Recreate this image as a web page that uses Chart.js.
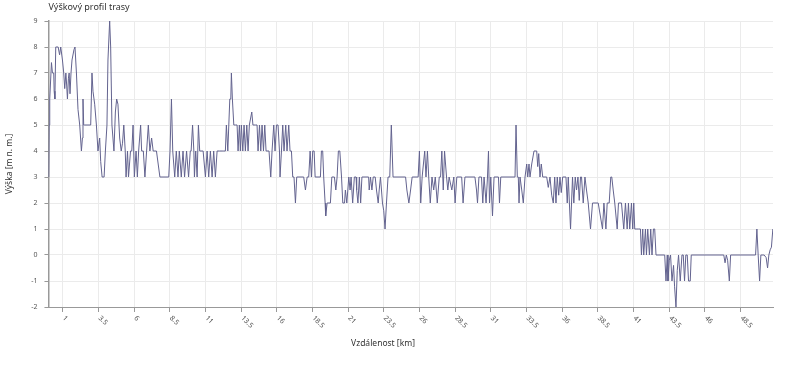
<!DOCTYPE html>
<html>
<head>
<meta charset="utf-8">
<script src="https://cdn.jsdelivr.net/npm/chart.js@4.4.0/dist/chart.umd.min.js"></script>
<style>
html, body { margin: 0; padding: 0; background: #fff; }
#wrap { width: 800px; height: 367px; }
</style>
</head>
<body>
<div id="wrap"><canvas id="profile-chart"></canvas></div>
<script>
/* Profile data: distance [km] and height [m]. */
const distanceKm = [
	0.02, 0.05, 0.09, 0.21, 0.28, 0.37, 0.40, 0.45, 0.51, 0.60, 0.68, 0.78, 0.86, 0.98,
	1.07, 1.14, 1.22, 1.28, 1.33, 1.40, 1.45, 1.51, 1.58, 1.65, 1.79, 1.86, 1.96,
	2.07, 2.19, 2.31, 2.38, 2.42, 2.47, 2.54, 2.96, 3.05, 3.12, 3.24, 3.36, 3.47, 3.59,
	3.66, 3.76, 3.90, 3.99, 4.10, 4.17, 4.29, 4.36, 4.45, 4.59, 4.69, 4.78, 4.87, 4.99,
	5.10, 5.19, 5.28, 5.38, 5.44, 5.54, 5.61, 5.75, 5.84, 5.93, 6.02, 6.14, 6.23, 6.32,
	6.46, 6.53, 6.65, 6.76, 6.88, 7.00, 7.11, 7.23, 7.34, 7.46, 7.57, 7.69, 7.81, 8.43,
	8.52, 8.62, 8.71, 8.85, 8.96, 9.08, 9.17, 9.31, 9.43, 9.54, 9.68, 9.82, 9.94, 10.00,
	10.10, 10.19, 10.23, 10.32, 10.42, 10.51, 10.60, 10.84, 11.00, 11.12, 11.23, 11.35,
	11.47, 11.58, 11.70, 11.82, 12.00, 12.17, 12.29, 12.40, 12.47, 12.57, 12.64, 12.71,
	12.78, 12.82, 12.89, 12.99, 13.10, 13.22, 13.29, 13.38, 13.45, 13.52, 13.62, 13.71,
	13.80, 13.90, 13.99, 14.08, 14.25, 14.33, 14.50, 14.62, 14.69, 14.79, 14.88, 14.97,
	15.07, 15.16, 15.25, 15.46, 15.58, 15.67, 15.79, 15.88, 15.98, 16.09, 16.19, 16.23,
	16.33, 16.42, 16.51, 16.63, 16.72, 16.84, 16.93, 17.03, 17.12, 17.21, 17.31, 17.40,
	17.89, 18.01, 18.13, 18.24, 18.34, 18.43, 18.52, 18.62, 18.69, 19.06, 19.13, 19.22,
	19.29, 19.39, 19.43, 19.53, 19.76, 19.86, 20.04, 20.14, 20.23, 20.32, 20.42, 20.54,
	20.63, 20.75, 20.81, 20.91, 21.05, 21.14, 21.21, 21.32, 21.44, 21.56, 21.60, 21.69,
	21.79, 21.88, 21.97, 22.44, 22.48, 22.57, 22.67, 22.76, 22.90, 22.99, 23.11, 23.18,
	23.27, 23.41, 23.50, 23.59, 23.69, 23.80, 23.92, 24.03, 24.15, 25.03, 25.12, 25.26,
	25.38, 25.49, 25.91, 26.00, 26.09, 26.19, 26.28, 26.37, 26.46, 26.56, 26.65, 26.76,
	26.88, 27.00, 27.11, 27.25, 27.39, 27.48, 27.57, 27.67, 27.76, 27.90, 27.99, 28.08,
	28.27, 28.41, 28.50, 28.62, 28.96, 29.06, 29.19, 29.89, 30.00, 30.07, 30.17, 30.35,
	30.44, 30.53, 30.58, 30.67, 30.77, 30.84, 30.91, 31.00, 31.12, 31.23, 31.54, 31.61,
	31.70, 32.70, 32.77, 32.86, 32.93, 32.98, 33.05, 33.17, 33.28, 33.40, 33.52, 33.59,
	33.68, 33.75, 33.87, 34.03, 34.22, 34.29, 34.36, 34.45, 34.54, 34.64, 34.92, 35.03,
	35.15, 35.27, 35.38, 35.48, 35.57, 35.66, 35.76, 35.85, 35.94, 36.04, 36.27, 36.36,
	36.43, 36.59, 36.73, 36.82, 36.92, 37.01, 37.11, 37.20, 37.29, 37.36, 37.48, 37.60,
	37.71, 37.83, 37.99, 38.13, 38.53, 38.83, 38.93, 39.07, 39.16, 39.30, 39.41, 39.48,
	39.58, 39.69, 39.86, 39.95, 40.16, 40.32, 40.44, 40.56, 40.65, 40.74, 40.86, 40.95,
	41.02, 41.09, 41.19, 41.37, 41.49, 41.56, 41.65, 41.72, 41.84, 41.91, 42.00, 42.12,
	42.21, 42.30, 42.40, 42.49, 42.58, 43.19, 43.28, 43.37, 43.42, 43.51, 43.60, 43.70,
	43.81, 43.88, 43.98, 44.07, 44.16, 44.28, 44.40, 44.49, 44.58, 44.67, 44.77, 44.86,
	44.98, 45.05, 47.33, 47.42, 47.51, 47.60, 47.72, 47.81, 49.56, 49.65, 49.74, 49.84,
	49.93, 50.16, 50.30, 50.40, 50.49, 50.58, 50.67, 50.77,
];
const elevation = [
	3, 5, 6, 7.4, 7, 7, 6.3, 6, 8, 8, 8, 7.7, 8, 7.5,
	7, 6.4, 7, 6.5, 6, 6.8, 7, 6.2, 7, 7.5, 7.9, 8, 7,
	5.6, 5, 4, 4.5, 6, 5, 5, 5, 7, 6.3, 5.8, 5, 4, 4.5,
	3.6, 3, 3, 4, 5, 7.5, 9, 8, 5, 4, 5.5, 6, 5.8, 4.5,
	4, 4.3, 5, 4, 3, 4, 3, 4, 4, 5, 3, 4, 3, 4,
	5, 4, 4, 3, 4, 5, 4, 4.5, 4, 4, 4, 3.5, 3, 3,
	4, 6, 4, 3, 4, 3, 4, 3, 4, 3, 4, 3, 4, 4,
	5, 4, 3, 4, 3, 5, 4, 4, 3, 4, 3, 4,
	3, 4, 3, 4, 4, 4, 4, 4, 5, 4, 5, 6,
	6, 7, 6, 5, 5, 5, 4, 5, 4, 5, 4, 5,
	4, 5, 4, 5, 5.5, 5, 5, 5, 4, 5, 4, 5,
	4, 5, 4, 4, 3, 4, 5, 4, 5, 5, 4, 3,
	4, 5, 4, 5, 4, 5, 4, 4, 3, 3, 2, 3,
	3, 2.5, 3, 3, 4, 3, 4, 4, 3, 3, 4, 4,
	3, 2, 1.5, 2, 2, 3, 3, 2.5, 3, 4, 4, 3,
	2, 2, 2.5, 2, 3, 2.5, 3, 2, 3, 3, 2.5, 2,
	3, 2, 3, 3, 2.5, 3, 2.5, 3, 3, 2.5, 2, 2.5,
	3, 2, 1.7, 1, 2, 3, 3, 5, 3, 3, 2.5, 2,
	2.5, 3, 3, 4, 2, 3, 3.5, 4, 3, 4, 3, 2,
	3, 2.5, 3, 2, 3, 3, 4, 2.5, 4, 3, 2.5, 3,
	2.5, 3, 2, 3, 3, 2, 3, 3, 2.5, 2, 3, 3,
	2, 3, 3, 2, 3, 4, 2, 3, 1.5, 3, 3, 2,
	3, 3, 5, 3, 3, 2, 3, 2.5, 2, 3, 3.5, 3,
	3.5, 3, 3.5, 4, 4, 3.4, 3.9, 3, 3.5, 3, 3, 2.6,
	3, 2.3, 2, 3, 2, 3, 2.3, 3, 2.4, 3, 3, 2,
	3, 1, 3, 2, 3, 2.5, 3, 2.1, 3, 3, 2, 3,
	2.5, 2, 1, 2, 2, 1, 2, 1, 2, 2, 3, 3,
	2.5, 2, 1, 2, 2, 1, 2, 1, 2, 1, 2, 1,
	2, 1, 1, 1, 1, 0, 1, 0, 1, 0, 1, 0,
	1, 0, 1, 1, 0, 0, -1, 0, -1, -0.2, 0, -1,
	-0.4, -1.2, -2, -0.6, 0, -1, 0, 0, -1, 0, 0, -1,
	-1, 0, 0, -0.3, 0, -0.2, -1, 0, 0, 1, 0, -1,
	0, 0, -0.1, -0.5, 0, 0.2, 0.3, 1,
];
const xTickLabels = [1, 3.5, 6, 8.5, 11, 13.5, 16, 18.5, 21, 23.5, 26, 28.5, 31, 33.5, 36, 38.5, 41, 43.5, 46, 48.5];
const chartTitle = "Výškový profil trasy";
const xTitle = "Vzdálenost [km]";
const yTitle = "Výška [m n. m.]";

const fontFamily = '"Noto Sans", sans-serif';

/* Title, rotated distance labels and the x axis title. */
const overlayText = {
	id: "overlayText",
	afterDraw(chart) {
		const {ctx, chartArea, scales: {x}} = chart;
		ctx.save();
		ctx.textBaseline = "middle";
		ctx.textAlign = "left";
		ctx.fillStyle = "#333";
		ctx.font = "9px " + fontFamily;
		ctx.fillText(chartTitle, chartArea.left, 7);

		ctx.fillStyle = "#555";
		ctx.font = "7px " + fontFamily;
		xTickLabels.forEach((v) => {
			ctx.save();
			ctx.translate(x.getPixelForValue(v) + 1, chartArea.bottom + 10);
			ctx.rotate(Math.PI / 4);
			ctx.fillText(String(v), 0, 0);
			ctx.restore();
		});

		ctx.fillStyle = "#333";
		ctx.font = "8.5px " + fontFamily;
		ctx.textAlign = "center";
		ctx.fillText(xTitle, chart.width / 2 - 17, chartArea.bottom + 37);
		ctx.restore();
	},
};

const profileChart = new Chart(
	document.getElementById("profile-chart"),
	{
		type: "line",
		data:
		{
			datasets:
			[
				{
					data: distanceKm.map((d, i) => ({x: d, y: elevation[i]})),
					borderColor: "#63638f",
					borderWidth: 1,
					pointRadius: 0,
					tension: 0,
					fill: false,
				},
			],
		},
		options:
		{
			responsive: true,
			maintainAspectRatio: false,
			animation: false,
			layout: {padding: {left: 4, right: 27, top: 21, bottom: 55}},
			plugins:
			{
				legend: {display: false},
				title: {display: false},
				tooltip: {enabled: false},
			},
			scales:
			{
				x:
				{
					type: "linear",
					min: 0,
					max: 50.78,
					afterBuildTicks: (scale) => {
						scale.ticks = xTickLabels.map((v) => ({value: v}));
					},
					ticks: {display: false},
					grid: {color: "#ebebeb", tickLength: 5, tickColor: "#999"},
					border: {color: "#999"},
				},
				y:
				{
					min: -2,
					max: 9,
					ticks: {stepSize: 1, color: "#555", padding: 7, font: {size: 7, family: fontFamily}},
					grid: {color: "#ebebeb", tickLength: 4, tickColor: "#999"},
					border: {color: "#999", width: 1.5},
					title:
					{
						display: true,
						text: yTitle,
						color: "#333",
						font: {size: 8.5, family: fontFamily},
						padding: {top: 0, bottom: 10},
					},
				},
			},
		},
		plugins: [overlayText],
	}
);
</script>
</body>
</html>
